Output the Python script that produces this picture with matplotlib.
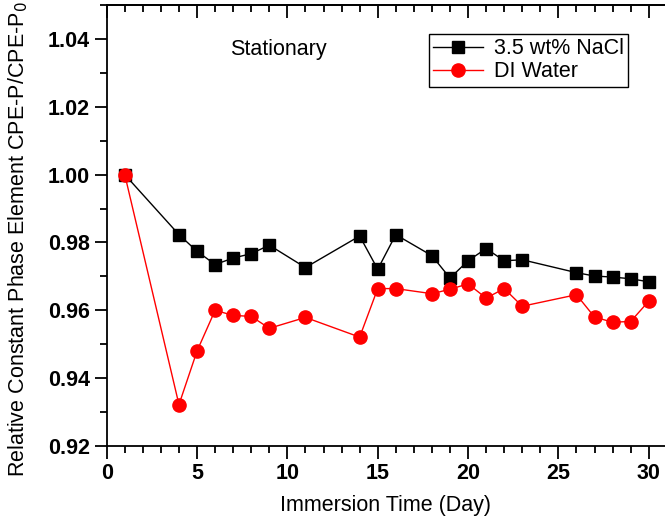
import matplotlib
matplotlib.use('Agg')
import matplotlib.pyplot as plt
from matplotlib.ticker import MultipleLocator

plt.rcParams['font.family'] = ['Liberation Sans', 'DejaVu Sans']

# Dados
dias_nacl = [1, 4, 5, 6, 7, 8, 9, 11, 14, 15, 16, 18, 19, 20, 21, 22, 23, 26, 27, 28, 29, 30]
cpe_nacl = [1.000, 0.9823, 0.9774, 0.9735, 0.9754, 0.9767, 0.9792, 0.9726, 0.9819, 0.9721,
            0.9823, 0.9761, 0.9695, 0.9746, 0.9782, 0.9746, 0.9749, 0.9711, 0.9701, 0.9698,
            0.9693, 0.9684]

dias_di = [1, 4, 5, 6, 7, 8, 9, 11, 14, 15, 16, 18, 19, 20, 21, 22, 23, 26, 27, 28, 29, 30]
cpe_di = [1.000, 0.9322, 0.9480, 0.9600, 0.9585, 0.9582, 0.9547, 0.9579, 0.9521, 0.9664,
          0.9664, 0.9649, 0.9662, 0.9678, 0.9636, 0.9664, 0.9612, 0.9646, 0.9580, 0.9565,
          0.9567, 0.9627]

fig = plt.figure(figsize=(6.65, 5.29), dpi=100)
ax = fig.add_axes([106.7 / 665, 83 / 529, 1 - 106.7 / 665, 441 / 529])

ax.plot(dias_nacl, cpe_nacl, color='black', marker='s', markersize=8.5, linewidth=1,
        label='3.5 wt% NaCl')
ax.plot(dias_di, cpe_di, color='red', marker='o', markersize=9.5, linewidth=1,
        label='DI Water')

ax.set_xlim(0, 30.9)
ax.set_ylim(0.92, 1.05)
ax.xaxis.set_major_locator(MultipleLocator(5))
ax.xaxis.set_minor_locator(MultipleLocator(1))
ax.set_yticks([0.92, 0.94, 0.96, 0.98, 1.00, 1.02, 1.04])
ax.set_yticklabels(['0.92', '0.94', '0.96', '0.98', '1.00', '1.02', '1.04'])
ax.yaxis.set_minor_locator(MultipleLocator(0.01))

ax.spines['right'].set_visible(False)
for s in ['left', 'bottom', 'top']:
    ax.spines[s].set_linewidth(1.3)

ax.tick_params(axis='both', which='major', direction='out', length=9, width=1.3,
               labelsize=15.5, pad=3)
ax.tick_params(axis='both', which='minor', direction='out', length=5, width=1.3)
for lab in ax.get_xticklabels() + ax.get_yticklabels():
    lab.set_fontweight('bold')

# eixo superior com ticks para dentro (estilo Origin)
topo = ax.secondary_xaxis('top')
topo.xaxis.set_major_locator(MultipleLocator(5))
topo.xaxis.set_minor_locator(MultipleLocator(1))
topo.tick_params(which='major', direction='in', length=9, width=1.3, labeltop=False)
topo.tick_params(which='minor', direction='in', length=5, width=1.3)
topo.spines['top'].set_linewidth(1.3)

ax.set_xlabel('Immersion Time (Day)', fontsize=15.5, labelpad=8)
ax.set_ylabel('Relative Constant Phase Element CPE-P/CPE-P$_0$', fontsize=15.5)
ax.yaxis.set_label_coords(-0.137, 0.469)

fig.text(230 / 665, 1 - 50 / 529, 'Stationary', fontsize=15.5, va='center')

leg = ax.legend(loc='upper left', bbox_to_anchor=(429 / 665, 1 - 34 / 529),
                bbox_transform=fig.transFigure, fontsize=15.5, fancybox=False,
                frameon=True, borderaxespad=0, borderpad=0.2, handlelength=2.3,
                handletextpad=0.5, labelspacing=0.1, framealpha=1)
leg.get_frame().set_edgecolor('black')
leg.get_frame().set_linewidth(1)

fig.savefig('out.png', dpi=100)
